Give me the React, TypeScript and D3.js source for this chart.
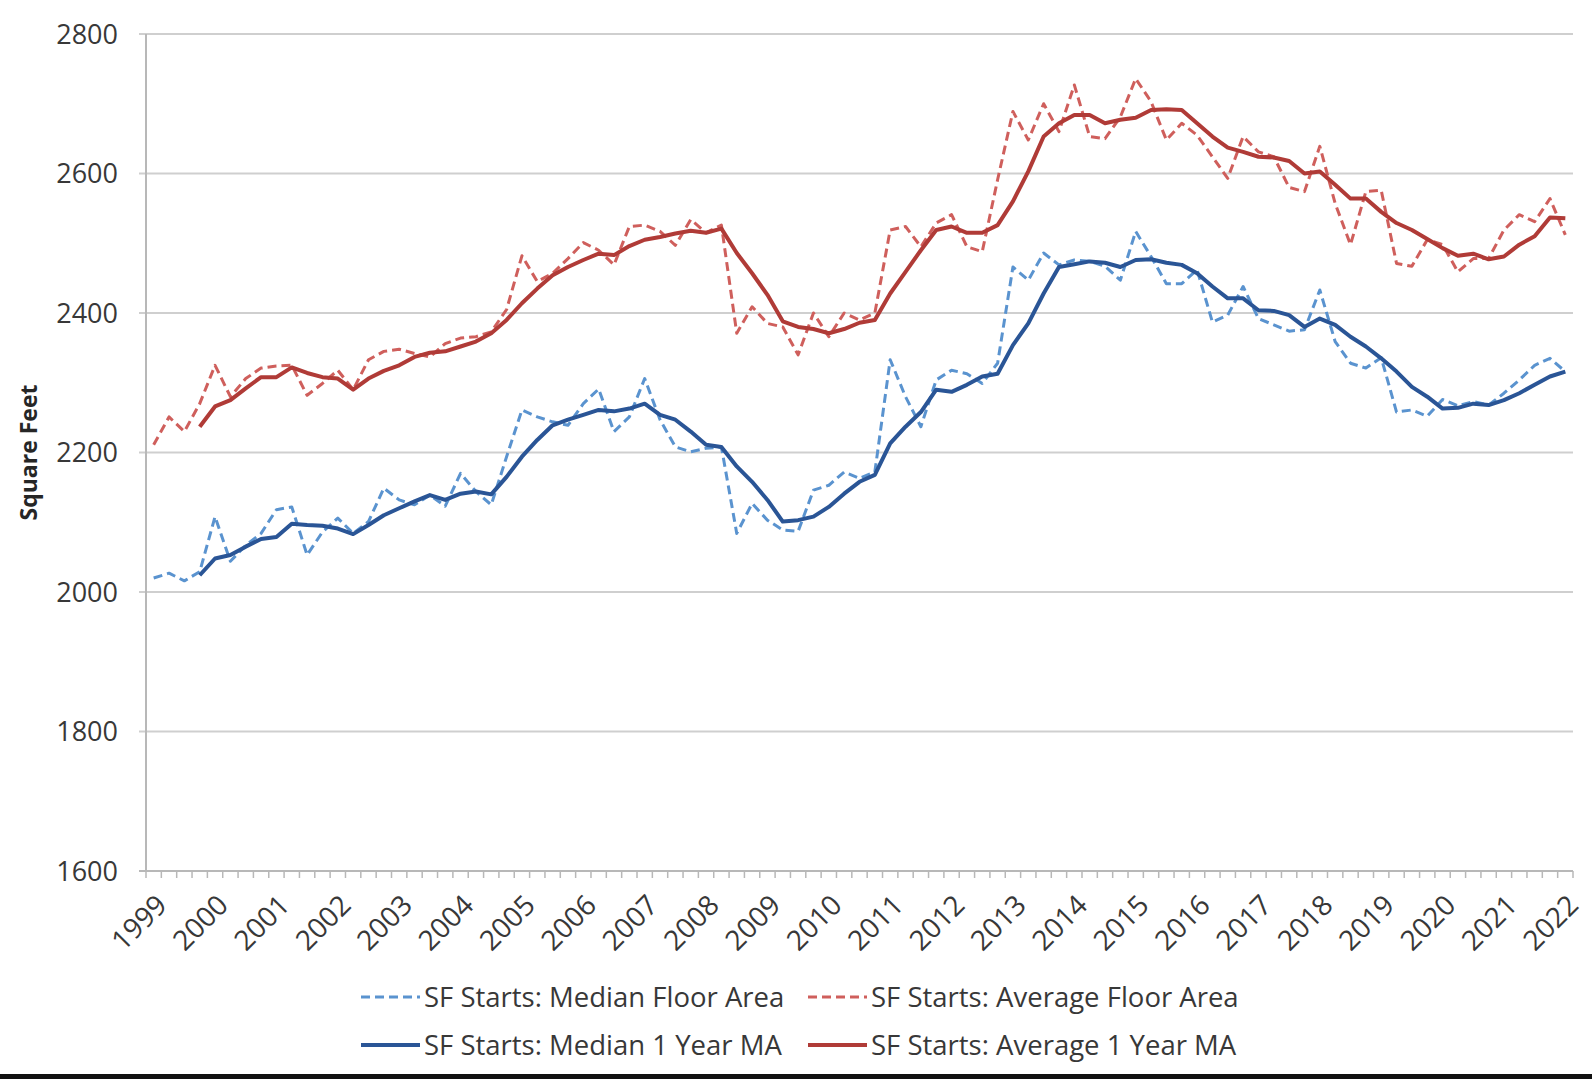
import React from 'react';
import * as d3 from 'd3';

// quarterly single-family starts floor area, 1999 Q1 .. 2022 Q1
const years = [
  '1999', '2000', '2001', '2002', '2003', '2004', '2005', '2006', '2007', '2008', '2009', '2010',
  '2011', '2012', '2013', '2014', '2015', '2016', '2017', '2018', '2019', '2020', '2021', '2022',
];
const quarters = years.flatMap((y, i) =>
  i < years.length - 1 ? [`${y} Q1`, `${y} Q2`, `${y} Q3`, `${y} Q4`] : [`${y} Q1`]
);

const yTicks = [1600, 1800, 2000, 2200, 2400, 2600, 2800];

const medianFloor = [
  2020, 2027, 2016, 2029, 2108, 2044, 2067, 2084, 2118, 2122, 2053, 2086, 2106, 2084, 2101, 2149,
  2132, 2125, 2139, 2123, 2170, 2144, 2125, 2194, 2261, 2251, 2244, 2239, 2270, 2291, 2230, 2251,
  2306, 2247, 2208, 2201, 2206, 2208, 2084, 2127, 2103, 2089, 2087, 2146, 2153, 2172, 2163, 2172,
  2333, 2280, 2237, 2304, 2318, 2313, 2299, 2328, 2466, 2447, 2486, 2469, 2476, 2474, 2467, 2447,
  2517, 2481, 2442, 2442, 2462, 2387, 2397, 2438, 2392, 2383, 2374, 2376, 2433, 2359, 2328, 2321,
  2336, 2258, 2261, 2252, 2276, 2267, 2273, 2268, 2285, 2304, 2325, 2335, 2316,
];

const averageFloor = [
  2211, 2251, 2230, 2270, 2325, 2280, 2306, 2321, 2324, 2325, 2282, 2299, 2318, 2290, 2333, 2345,
  2348, 2342, 2337, 2356, 2364, 2366, 2373, 2405, 2482, 2445, 2457, 2478, 2501, 2490, 2469, 2524,
  2526, 2517, 2497, 2534, 2515, 2526, 2371, 2409, 2385, 2380, 2340, 2400, 2366, 2400, 2390, 2400,
  2519, 2524, 2495, 2529, 2541, 2495, 2488, 2591, 2689, 2648, 2700, 2660, 2727, 2653, 2650, 2681,
  2736, 2703, 2648, 2672, 2655, 2624, 2593, 2653, 2631, 2624, 2580, 2574, 2639, 2557, 2498, 2574,
  2576, 2471, 2467, 2505, 2498, 2459, 2478, 2478, 2519, 2541, 2531, 2564, 2512,
];

// 1 year moving averages start at the 4th quarter
const maOffset = 3;

const medianMA = [
  2024, 2048, 2053, 2065, 2076, 2079, 2098, 2096, 2095, 2091, 2083, 2096, 2110, 2120, 2130, 2139,
  2132, 2141, 2144, 2140, 2165, 2194, 2218, 2239, 2247, 2254, 2261, 2259, 2263, 2270, 2254, 2247,
  2230, 2211, 2208, 2180, 2158, 2132, 2101, 2103, 2108, 2122, 2141, 2158, 2168, 2213, 2237, 2258,
  2290, 2287, 2297, 2309, 2313, 2354, 2385, 2428, 2466, 2470, 2474, 2472, 2466, 2476, 2477, 2472,
  2469, 2457, 2438, 2421, 2421, 2404, 2403, 2397, 2380, 2392, 2383, 2366, 2352, 2335, 2316, 2294,
  2280, 2263, 2264, 2270, 2268, 2275, 2285, 2297, 2309, 2316,
];

const averageMA = [
  2237, 2266, 2275, 2292, 2308, 2308, 2322, 2314, 2308, 2306, 2290, 2306, 2317, 2325, 2337, 2343,
  2345, 2352, 2359, 2371, 2390, 2414, 2435, 2454, 2466, 2476, 2485, 2483, 2496, 2505, 2509, 2514,
  2518, 2515, 2521, 2486, 2457, 2426, 2388, 2380, 2377, 2371, 2377, 2386, 2390, 2428, 2459, 2490,
  2519, 2524, 2515, 2515, 2526, 2560, 2603, 2653, 2672, 2684, 2684, 2672, 2677, 2680, 2691, 2692,
  2691, 2672, 2653, 2637, 2631, 2624, 2623, 2618, 2600, 2603, 2584, 2564, 2564, 2545, 2529, 2519,
  2506, 2493, 2482, 2485, 2477, 2481, 2498, 2510, 2537, 2536,
];

const series = [
  { name: 'SF Starts: Median Floor Area', values: medianFloor, offset: 0, color: '#5a93cf', dashed: true },
  { name: 'SF Starts: Average Floor Area', values: averageFloor, offset: 0, color: '#cf5f5c', dashed: true },
  { name: 'SF Starts: Median 1 Year MA', values: medianMA, offset: maOffset, color: '#2a5596', dashed: false },
  { name: 'SF Starts: Average 1 Year MA', values: averageMA, offset: maOffset, color: '#b03b37', dashed: false },
];

const W = 1592;
const H = 1079;
const margin = { left: 146, right: 19, top: 34, bottom: 208 };
const FONT = "'Open Sans', 'Noto Sans', sans-serif";

export default function App() {
  const x = d3.scaleBand<number>()
    .domain(d3.range(quarters.length))
    .range([margin.left, W - margin.right]);
  const y = d3.scaleLinear()
    .domain([1600, 2800])
    .range([H - margin.bottom, margin.top]);

  const bw = x.bandwidth();
  const cx = (i: number) => (x(i) as number) + bw / 2;
  const x0 = margin.left;
  const x1 = W - margin.right;
  const yBottom = y(1600);

  const line = d3.line<[number, number]>()
    .x(d => cx(d[0]))
    .y(d => y(d[1]));

  // legend rows: dashed pair on top, solid pair below
  const legendCols = [361, 808];
  const legendRows = [997, 1045];

  return (
    <svg
      width={W}
      height={H}
      style={{ position: 'absolute', left: 0, top: 0, background: '#fff' }}
      fontFamily={FONT}
    >
      {/* gridlines + y ticks */}
      {yTicks.map(t => (
        <line
          key={`g${t}`}
          x1={x0 - 7}
          x2={x1}
          y1={y(t)}
          y2={y(t)}
          stroke={t === 1600 ? '#b8b8b8' : '#cfcfcf'}
          strokeWidth={2}
        />
      ))}
      <line x1={x0} x2={x0} y1={margin.top} y2={yBottom} stroke="#b8b8b8" strokeWidth={2} />

      {/* category ticks */}
      {d3.range(quarters.length + 1).map(i => (
        <line
          key={`t${i}`}
          x1={x0 + i * bw}
          x2={x0 + i * bw}
          y1={yBottom}
          y2={yBottom + 7}
          stroke="#b8b8b8"
          strokeWidth={1.5}
        />
      ))}

      {/* y labels */}
      {yTicks.map(t => (
        <text
          key={`yl${t}`}
          x={118}
          y={y(t)}
          dy="0.36em"
          textAnchor="end"
          fontSize={27}
          fill="#383838"
        >
          {t}
        </text>
      ))}

      {/* x labels, one per year */}
      {years.map((yr, k) => {
        const i = k * 4;
        return (
          <text
            key={`xl${yr}`}
            transform={`translate(${cx(i) + 1},${yBottom + 22}) rotate(-45)`}
            textAnchor="end"
            dy="0.7em"
            fontSize={28}
            fill="#383838"
          >
            {yr}
          </text>
        );
      })}

      <text
        transform={`translate(37,${(margin.top + yBottom) / 2}) rotate(-90)`}
        textAnchor="middle"
        fontSize={23}
        fontWeight="bold"
        fill="#262626"
      >
        Square Feet
      </text>

      {/* series */}
      {series.map(s => (
        <path
          key={s.name}
          d={line(s.values.map((v, j) => [j + s.offset, v] as [number, number])) || ''}
          fill="none"
          stroke={s.color}
          strokeWidth={s.dashed ? 3 : 4}
          strokeDasharray={s.dashed ? '9 5' : undefined}
          strokeLinejoin="round"
        />
      ))}

      {/* legend */}
      {series.map((s, k) => {
        const lx = legendCols[k % 2];
        const ly = legendRows[Math.floor(k / 2)];
        return (
          <g key={`lg${k}`}>
            <line
              x1={lx}
              x2={lx + 59}
              y1={ly}
              y2={ly}
              stroke={s.color}
              strokeWidth={s.dashed ? 3 : 4}
              strokeDasharray={s.dashed ? '9 5' : undefined}
            />
            <text x={lx + 63} y={ly} dy="0.36em" fontSize={27.5} fill="#383838">
              {s.name}
            </text>
          </g>
        );
      })}

      <rect x={0} y={1074} width={W} height={5} fill="#111" />
    </svg>
  );
}
